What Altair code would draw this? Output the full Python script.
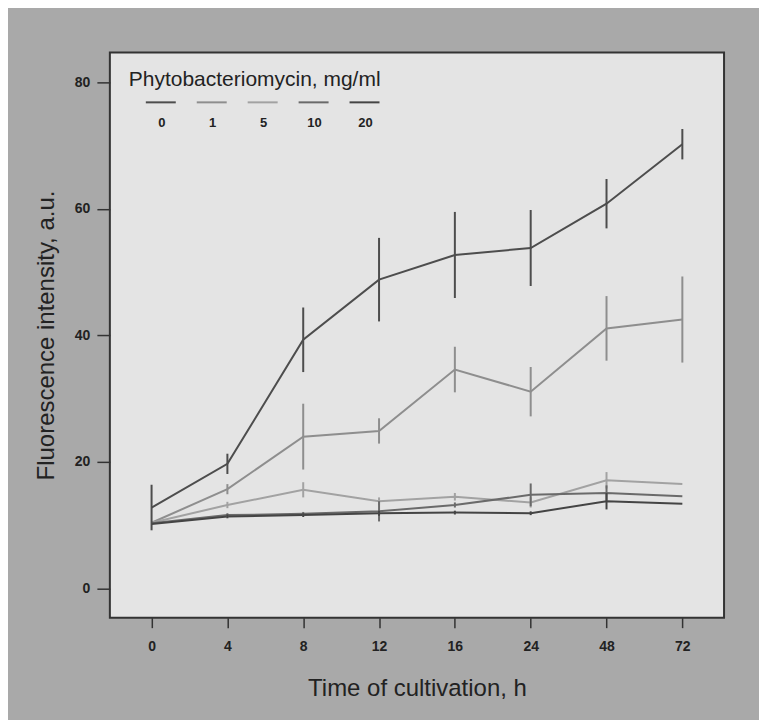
import altair as alt
import pandas as pd

times = ["0", "4", "8", "12", "16", "24", "48", "72"]
doses = ["0", "1", "5", "10", "20"]

mean_0 = [12.8, 19.7, 39.3, 48.8, 52.7, 53.8, 60.8, 70.2]
err_0 = [3.6, 1.6, 5.1, 6.6, 6.8, 6.0, 3.9, 2.4]
mean_1 = [10.4, 15.7, 24.0, 24.9, 34.6, 31.1, 41.1, 42.5]
err_1 = [0.0, 0.8, 5.2, 2.0, 3.6, 3.9, 5.1, 6.8]
mean_5 = [10.4, 13.2, 15.6, 13.8, 14.5, 13.6, 17.1, 16.5]
err_5 = [0.0, 0.5, 1.2, 0.6, 0.6, 0.8, 1.3, 0.0]
mean_10 = [10.3, 11.6, 11.8, 12.2, 13.2, 14.8, 15.1, 14.6]
err_10 = [0.0, 0.3, 0.3, 1.6, 0.4, 1.8, 1.2, 0.0]
mean_20 = [10.2, 11.4, 11.6, 11.9, 12.0, 11.9, 13.8, 13.4]
err_20 = [0.0, 0.3, 0.3, 0.4, 0.3, 0.3, 1.3, 0.0]

colors = ["#4d4d4d", "#8e8e8e", "#a2a2a2", "#6a6a6a", "#444444"]

means = [mean_0, mean_1, mean_5, mean_10, mean_20]
errs = [err_0, err_1, err_5, err_10, err_20]

rows = []
for d, m, e in zip(doses, means, errs):
    for t, mv, ev in zip(times, m, e):
        rows.append({"time": t, "dose": d, "mean": mv, "lo": mv - ev, "hi": mv + ev, "err": ev})
df = pd.DataFrame(rows)
df_err = df[df["err"] > 0]

FONT = "Liberation Sans"
TXT = "#222222"

x_enc = alt.X(
    "time:N",
    sort=times,
    scale=alt.Scale(type="point", padding=0.55),
    axis=alt.Axis(
        title="Time of cultivation, h",
        titleFont=FONT, titleFontSize=24, titleFontWeight="normal", titleColor=TXT,
        titlePadding=23,
        labelFont=FONT, labelFontSize=14, labelFontWeight="bold", labelColor=TXT,
        labelAngle=0, labelPadding=12,
        ticks=True, tickSize=10, tickColor="#333333", tickWidth=1.5,
        domain=False, grid=False,
    ),
)

y_axis = alt.Axis(
    title="Fluorescence intensity, a.u.",
    titleFont=FONT, titleFontSize=24, titleFontWeight="normal", titleColor=TXT,
    titlePadding=16,
    labelFont=FONT, labelFontSize=14, labelFontWeight="bold", labelColor=TXT,
    labelPadding=7,
    values=[0, 20, 40, 60, 80],
    ticks=True, tickSize=13, tickColor="#333333", tickWidth=1.5,
    domain=False, grid=False,
)
y_scale = alt.Scale(domain=[-4.6, 84.7], nice=False, zero=False)

color_enc = alt.Color(
    "dose:N",
    sort=doses,
    scale=alt.Scale(domain=doses, range=colors),
    legend=alt.Legend(
        orient="none", legendX=19, legendY=17, direction="horizontal", columns=5,
        title="Phytobacteriomycin, mg/ml", titleLimit=400,
        titleFont=FONT, titleFontSize=21, titleFontWeight="normal", titleColor=TXT,
        titlePadding={"expr": "-4"},
        symbolType="stroke", symbolSize=900, symbolStrokeWidth=2,
        symbolOffset=16, labelOffset={"expr": "-15"}, labelAlign="center", labelBaseline="top",
        labelExpr="['', datum.label]",
        labelFont=FONT, labelFontSize=13, labelFontWeight="bold", labelColor=TXT,
        columnPadding={"expr": "-3"}, padding=0,
    ),
)

lines = alt.Chart(df).mark_line(strokeWidth=2).encode(
    x=x_enc,
    y=alt.Y("mean:Q", scale=y_scale, axis=y_axis),
    color=color_enc,
)

bars = alt.Chart(df_err).mark_rule(strokeWidth=2).encode(
    x=x_enc,
    y=alt.Y("lo:Q", scale=y_scale, title="Fluorescence intensity, a.u."),
    y2="hi:Q",
    color=color_enc,
)

chart = (
    alt.layer(lines, bars)
    .properties(
        width=615, height=566,
        autosize=alt.AutoSizeParams(type="none"),
        padding={"left": 102, "top": 44, "right": 35, "bottom": 102},
        background="#a9a9a9",
    )
    .configure_view(fill="#e4e4e4", stroke="#333333", strokeWidth=2)
)

chart.save("out.html", embed_options={"renderer": "svg", "actions": False})
